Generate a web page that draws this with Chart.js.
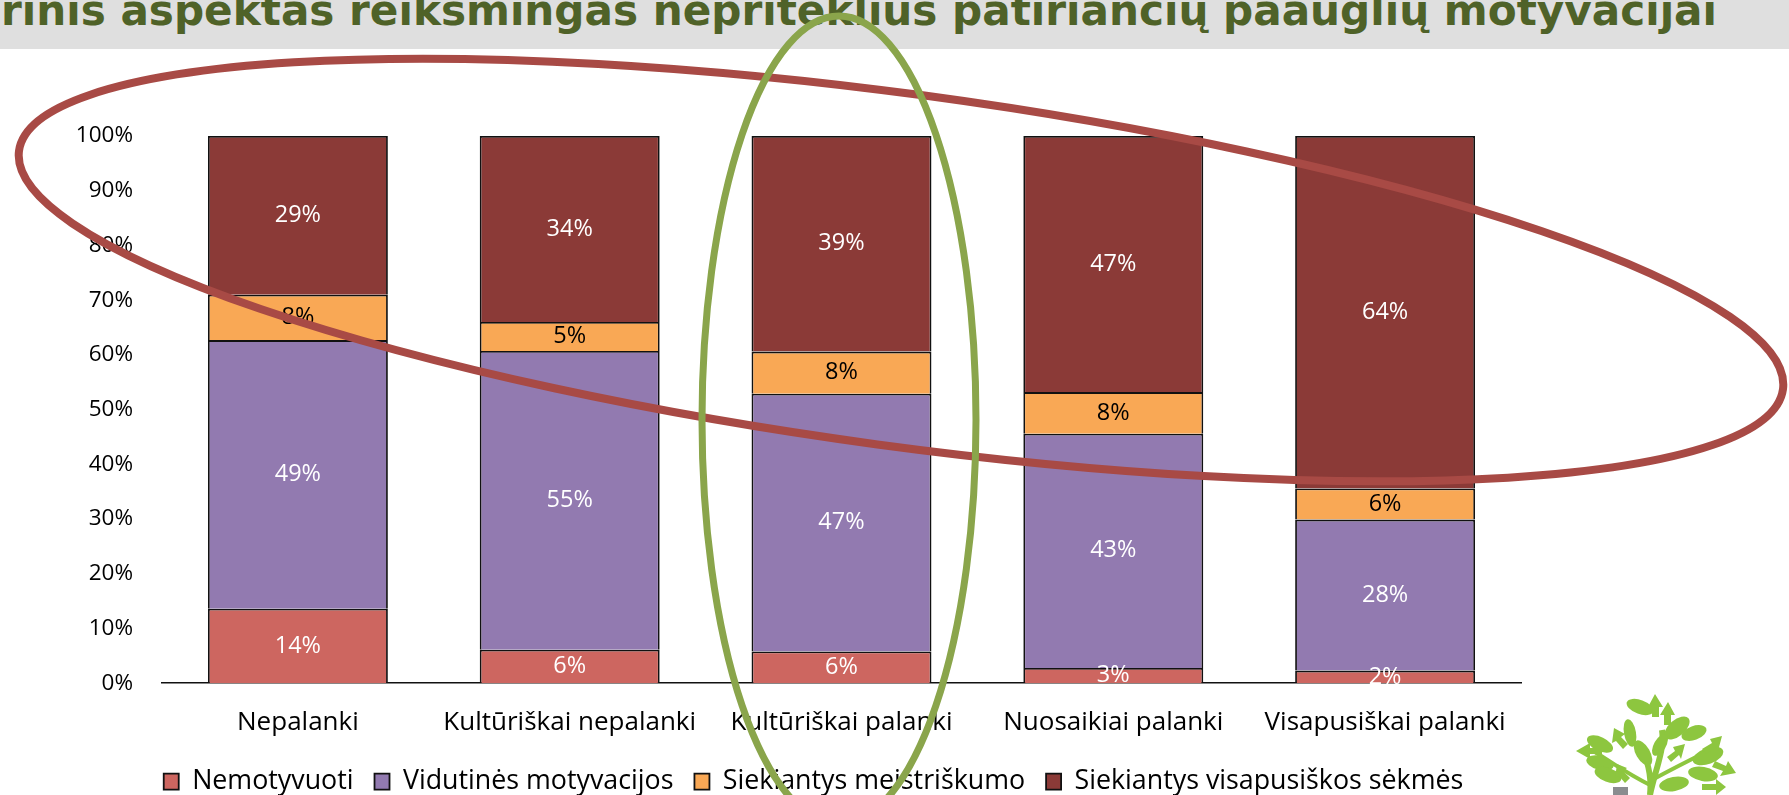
<!DOCTYPE html>
<html>
<head>
<meta charset="utf-8">
<script src="https://cdn.jsdelivr.net/npm/chart.js@4.4.0/dist/chart.umd.min.js"></script>
<style>
html,body{margin:0;padding:0;background:#fff;}
#wrap{position:relative;width:1789px;height:795px;overflow:hidden;background:#fff;}
#band{position:absolute;left:0;top:0;width:1789px;height:49px;background:#dfdfdf;}
#title{position:absolute;left:1px;top:-11px;white-space:nowrap;font-family:"DejaVu Sans";font-weight:bold;font-size:43px;line-height:43px;color:#4f6228;transform-origin:0 0;}
#logo{position:absolute;left:1570px;top:690px;}
#c{position:absolute;left:0;top:0;}
</style>
</head>
<body>
<div id="wrap">
<div id="band"></div>
<div id="title">rinis aspektas reikšmingas nepriteklius patiriančių paauglių motyvacijai</div>
<svg id="logo" width="219" height="105" viewBox="0 0 219 105">
 <g fill="#8dc63f">
  <path d="M80 105 C 82 85, 78 70, 70 55 M80 105 C 85 80, 95 60, 92 40" stroke="#8dc63f" stroke-width="6" fill="none"/>
  <path d="M80 95 C 60 85, 45 75, 25 62 M82 90 C 100 80, 120 70, 140 60" stroke="#8dc63f" stroke-width="4" fill="none"/>
  <ellipse cx="70" cy="17" rx="14" ry="7" transform="rotate(20 70 17)"/>
  <ellipse cx="107" cy="38" rx="15" ry="8" transform="rotate(-40 107 38)"/>
  <ellipse cx="124" cy="43" rx="13" ry="7" transform="rotate(-20 124 43)"/>
  <ellipse cx="30" cy="54" rx="14" ry="7" transform="rotate(25 30 54)"/>
  <ellipse cx="60" cy="43" rx="14" ry="6" transform="rotate(80 60 43)"/>
  <ellipse cx="73" cy="63" rx="14" ry="7" transform="rotate(60 73 63)"/>
  <ellipse cx="138" cy="66" rx="16" ry="8" transform="rotate(-20 138 66)"/>
  <ellipse cx="133" cy="84" rx="15" ry="7" transform="rotate(10 133 84)"/>
  <ellipse cx="30" cy="73" rx="14" ry="7" transform="rotate(15 30 73)"/>
  <ellipse cx="38" cy="85" rx="14" ry="7" transform="rotate(20 38 85)"/>
  <ellipse cx="104" cy="94" rx="15" ry="7" transform="rotate(-10 104 94)"/>
  <ellipse cx="90" cy="55" rx="12" ry="6" transform="rotate(-60 90 55)"/>
  <polygon points="6,61 20,53 20,58 32,58 32,64 20,64 20,69"/>
  <polygon points="85,4 78,17 82,17 82,27 89,27 89,17 93,17"/>
  <polygon points="98,12 90,25 94,25 94,35 101,35 101,25 105,25"/>
  <polygon points="152,46 140,49 142,53 132,59 136,64 146,57 148,61"/>
  <polygon points="166,83 158,71 156,76 145,71 142,77 153,81 150,86"/>
  <polygon points="156,97 146,89 146,94 132,94 132,100 146,100 146,105"/>
  <polygon points="44,38 42,53 46,51 53,59 58,54 51,47 55,44"/>
  <polygon points="115,54 103,57 105,61 97,67 101,72 109,65 111,69"/>
  <polygon points="47,74 45,88 49,86 55,93 60,88 53,81 57,78"/>
 </g>
 <rect x="43" y="97" width="15" height="8" fill="#8a8c8f"/>
</svg>
<canvas id="c" width="1789" height="795"></canvas>
</div>
<script>
// ---- data ----
const categories = ['Nepalanki', 'Kultūriškai nepalanki', 'Kultūriškai palanki', 'Nuosaikiai palanki', 'Visapusiškai palanki'];
const seriesNames = ['Nemotyvuoti', 'Vidutinės motyvacijos', 'Siekiantys meistriškumo', 'Siekiantys visapusiškos sėkmės'];
const nemotyvuoti = [13.6, 6.1, 5.8, 2.8, 2.3];
const vidutines = [49.1, 54.6, 47.1, 42.8, 27.6];
const meistriskumo = [8.3, 5.3, 7.7, 7.6, 5.7];
const visapusiskos = [29.0, 34.0, 39.4, 46.8, 64.4];
const yTickValues = [0, 10, 20, 30, 40, 50, 60, 70, 80, 90, 100];

// ---- title fit ----
(function(){
  const t = document.getElementById('title');
  const w = t.getBoundingClientRect().width;
  t.style.transform = 'scaleX(' + (1716 / w) + ')';
})();

const colors = ['#cd6660', '#927ab0', '#f9a855', '#8b3a37'];
const labelColors = ['#ffffff', '#ffffff', '#000000', '#ffffff'];
const seriesData = [nemotyvuoti, vidutines, meistriskumo, visapusiskos];

const PAD_LEFT = 40;
const PLOT_LEFT = 162;
const LEGEND_DX = 33;
const LEGEND_DY = 6;

const segLabels = {
  id: 'segLabels',
  afterDatasetsDraw(chart) {
    const ctx = chart.ctx;
    ctx.save();
    ctx.font = '23.5px "Open Sans"';
    ctx.textAlign = 'center';
    ctx.textBaseline = 'middle';
    chart.data.datasets.forEach((ds, i) => {
      const meta = chart.getDatasetMeta(i);
      meta.data.forEach((bar, j) => {
        const p = bar.getProps(['x', 'y', 'base'], true);
        ctx.fillStyle = labelColors[i];
        ctx.fillText(Math.round(ds.data[j]) + '%', p.x, (p.y + p.base) / 2);
      });
    });
    ctx.restore();
  }
};

const legendShift = {
  id: 'legendShift',
  afterLayout(chart) {
    const lg = chart.legend;
    if (!lg) return;
    lg.left += LEGEND_DX; lg.right += LEGEND_DX;
    lg.top += LEGEND_DY; lg.bottom += LEGEND_DY;
  }
};

const annotations = {
  id: 'annotations',
  afterDraw(chart) {
    const ctx = chart.ctx;
    ctx.save();
    ctx.lineWidth = 8;
    ctx.strokeStyle = '#a84a45';
    ctx.beginPath();
    ctx.ellipse(901, 270, 890, 176, 7.7 * Math.PI / 180, 0, Math.PI * 2);
    ctx.stroke();
    ctx.lineWidth = 7;
    ctx.strokeStyle = '#8aa54b';
    ctx.beginPath();
    ctx.ellipse(839, 420, 137, 404, 0, 0, Math.PI * 2);
    ctx.stroke();
    ctx.restore();
  }
};

new Chart(document.getElementById('c'), {
  type: 'bar',
  data: {
    labels: categories,
    datasets: seriesNames.map((name, i) => ({
      label: name,
      data: seriesData[i],
      backgroundColor: colors[i],
      borderColor: '#111111',
      borderWidth: 1.8,
      borderSkipped: 'start',
      barPercentage: 0.662,
      categoryPercentage: 1.0
    }))
  },
  options: {
    responsive: false,
    devicePixelRatio: 1,
    animation: false,
    layout: { padding: { left: PAD_LEFT, right: 268, top: 136, bottom: -4 } },
    scales: {
      x: {
        stacked: true,
        grid: { display: false, drawTicks: false },
        border: { display: true, color: '#111111', width: 1.5 },
        ticks: { color: '#000', font: { family: 'Open Sans', size: 26 }, padding: 24 },
        afterFit(scale) { scale.height = 58; }
      },
      y: {
        stacked: true,
        min: 0, max: 100,
        grid: { display: false, drawTicks: false },
        border: { display: false },
        afterBuildTicks(scale) { scale.ticks = yTickValues.map(v => ({ value: v })); },
        afterFit(scale) { scale.width = PLOT_LEFT - PAD_LEFT; },
        ticks: {
          color: '#000', font: { family: 'Open Sans', size: 22.5 }, padding: 29,
          callback: v => v + '%'
        }
      }
    },
    plugins: {
      legend: {
        position: 'bottom',
        labels: {
          color: '#000', font: { family: 'Open Sans', size: 26.8 },
          boxWidth: 15, boxHeight: 16, padding: 21
        }
      },
      tooltip: { enabled: false }
    }
  },
  plugins: [segLabels, legendShift, annotations]
});
</script>
</body>
</html>
